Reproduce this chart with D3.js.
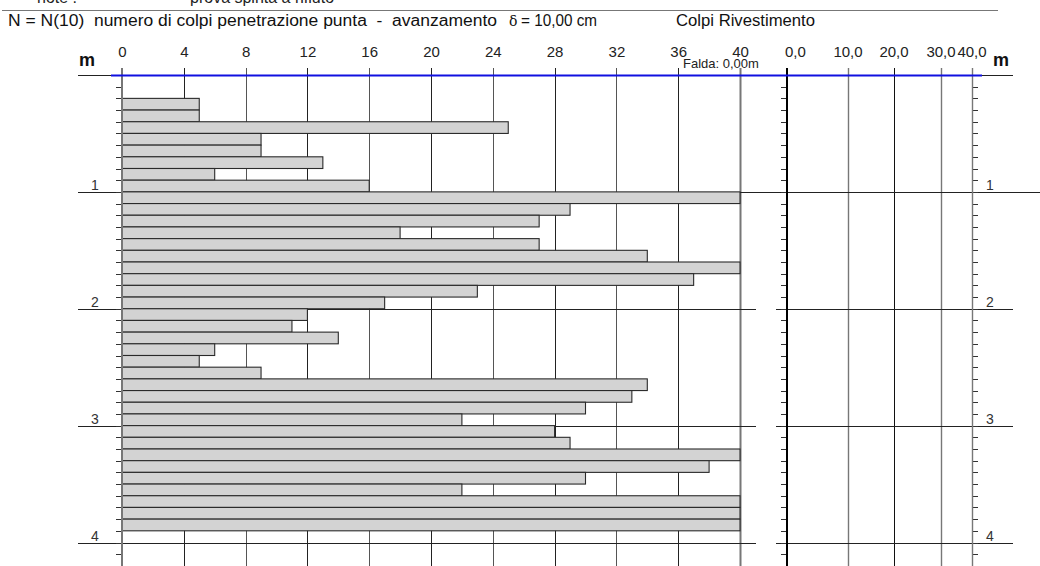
<!DOCTYPE html>
<html>
<head>
<meta charset="utf-8">
<script src="https://cdn.jsdelivr.net/npm/d3@7"></script>
<style>
  html, body { margin: 0; padding: 0; background: #fff; }
  svg { display: block; font-family: "Liberation Sans", Arial, sans-serif; }
</style>
</head>
<body>
<svg id="chart" width="1040" height="566"></svg>
<script>
// Penetrometric test: blow counts N(10) for each 10 cm of advance
const depthFrom = [0.2, 0.3, 0.4, 0.5, 0.6, 0.7, 0.8, 0.9,
                   1.0, 1.1, 1.2, 1.3, 1.4, 1.5, 1.6, 1.7, 1.8, 1.9,
                   2.0, 2.1, 2.2, 2.3, 2.4, 2.5, 2.6, 2.7, 2.8, 2.9,
                   3.0, 3.1, 3.2, 3.3, 3.4, 3.5, 3.6, 3.7, 3.8];
const blowCounts = [5, 5, 25, 9, 9, 13, 6, 16,
                    40, 29, 27, 18, 27, 34, 40, 37, 23, 17,
                    12, 11, 14, 6, 5, 9, 34, 33, 30, 22,
                    28, 29, 40, 38, 30, 22, 40, 40, 40];
const stepDepth = 0.1;

// Axis ticks
const blowTicks = [0, 4, 8, 12, 16, 20, 24, 28, 32, 36, 40];
const casingTicks = [0, 10, 20, 30, 40];
const casingLabels = ["0,0", "10,0", "20,0", "30,0", "40,0"];
const meterTicks = [1, 2, 3, 4];
const waterTable = 0.0;

const svg = d3.select("#chart");

// Scales
const y = d3.scaleLinear().domain([0, 4]).range([75, 542.5]);
const x = d3.scaleLinear().domain([0, 40]).range([122, 740]);
// casing column uses a stepped graduation
const xc = d3.scaleLinear().domain(casingTicks).range([787, 848, 894, 941, 972]);

const bottom = 566;
const minorDepths = d3.range(1, 42).map(d => d / 10);
const px = v => Math.round(v) + 0.5;

// ---- header ----
svg.append("text").attr("x", 37).attr("y", 3).attr("font-size", 16).attr("fill", "#222").text("note :");
svg.append("text").attr("x", 190).attr("y", 3).attr("font-size", 16).attr("fill", "#222").text("prova spinta a rifiuto");
svg.append("line").attr("x1", 2).attr("x2", 998).attr("y1", 10.5).attr("y2", 10.5)
  .attr("stroke", "#777").attr("stroke-width", 1.2);

const title = svg.append("g").attr("font-size", 16).attr("fill", "#111");
title.append("text").attr("x", 8).attr("y", 26)
  .attr("xml:space", "preserve")
  .attr("textLength", 489).attr("lengthAdjust", "spacingAndGlyphs")
  .text("N = N(10)  numero di colpi penetrazione punta  -  avanzamento");
title.append("text").attr("x", 509).attr("y", 26).attr("font-size", 14)
  .attr("font-family", "DejaVu Serif, serif").text("δ");
title.append("text").attr("x", 521).attr("y", 26)
  .attr("textLength", 76).attr("lengthAdjust", "spacingAndGlyphs").text("= 10,00 cm");
title.append("text").attr("x", 676).attr("y", 26)
  .attr("textLength", 139).attr("lengthAdjust", "spacingAndGlyphs").text("Colpi Rivestimento");

// ---- left column: blow counts ----
// vertical grid lines
svg.append("g").selectAll("line")
  .data(blowTicks.filter(d => d > 0))
  .join("line")
  .attr("x1", d => px(x(d))).attr("x2", d => px(x(d)))
  .attr("y1", 68).attr("y2", bottom)
  .attr("stroke", d => (d === 40 ? "#777" : (d % 8 === 4 ? "#222" : "#555")))
  .attr("stroke-width", d => (d === 40 ? 2 : 1));

// whole-metre lines
svg.append("g").selectAll("line")
  .data(meterTicks)
  .join("line")
  .attr("x1", 78).attr("x2", 756)
  .attr("y1", d => px(y(d))).attr("y2", d => px(y(d)))
  .attr("stroke", "#222").attr("stroke-width", 1);

// bars
svg.append("g").selectAll("rect")
  .data(blowCounts)
  .join("rect")
  .attr("x", x(0))
  .attr("y", (d, i) => y(depthFrom[i]))
  .attr("width", d => x(d) - x(0))
  .attr("height", (d, i) => y(depthFrom[i] + stepDepth) - y(depthFrom[i]))
  .attr("fill", "#d3d3d3")
  .attr("stroke", "#2a2a2a")
  .attr("stroke-width", 1.1);

// depth axis on the left (minor ticks every 10 cm)
svg.append("g").selectAll("line")
  .data(minorDepths)
  .join("line")
  .attr("x1", 116).attr("x2", 122)
  .attr("y1", d => px(y(d))).attr("y2", d => px(y(d)))
  .attr("stroke", "#333");
svg.append("line").attr("x1", 122).attr("x2", 122).attr("y1", 68).attr("y2", bottom)
  .attr("stroke", "#777").attr("stroke-width", 2);

// top tick labels
const xAxis = d3.axisTop(x).tickValues(blowTicks).tickSize(0).tickPadding(0);
const gx = svg.append("g").attr("transform", "translate(0,57)").call(xAxis);
gx.select(".domain").remove();
gx.selectAll("text").attr("font-size", 15).attr("fill", "#222")
  .attr("font-family", "Liberation Sans, Arial, sans-serif");

// depth labels on the left
svg.append("g").selectAll("text")
  .data(meterTicks)
  .join("text")
  .attr("x", 95).attr("y", d => y(d) - 2)
  .attr("text-anchor", "middle").attr("font-size", 14).attr("fill", "#333")
  .text(d => d);

svg.append("text").attr("x", 79).attr("y", 66).attr("font-size", 18)
  .attr("font-weight", "bold").attr("fill", "#111").text("m");

// ---- right column: casing blows ----
svg.append("g").selectAll("line")
  .data(casingTicks.slice(1, 4))
  .join("line")
  .attr("x1", d => px(xc(d))).attr("x2", d => px(xc(d)))
  .attr("y1", 68).attr("y2", bottom)
  .attr("stroke", (d, i) => (i === 1 ? "#111" : "#777"))
  .attr("stroke-width", (d, i) => (i === 1 ? 1 : 1.4));

svg.append("g").selectAll("line")
  .data(meterTicks)
  .join("line")
  .attr("x1", d => (d === 1 ? 755 : 776)).attr("x2", d => (d === 1 ? 1040 : 1013))
  .attr("y1", d => px(y(d))).attr("y2", d => px(y(d)))
  .attr("stroke", "#222");

// left edge ticks of the casing column
svg.append("g").selectAll("line")
  .data(minorDepths)
  .join("line")
  .attr("x1", 781).attr("x2", 787)
  .attr("y1", d => px(y(d))).attr("y2", d => px(y(d)))
  .attr("stroke", "#333");
// right edge ticks
svg.append("g").selectAll("line")
  .data(minorDepths)
  .join("line")
  .attr("x1", 972).attr("x2", 978)
  .attr("y1", d => px(y(d))).attr("y2", d => px(y(d)))
  .attr("stroke", "#333");

svg.append("line").attr("x1", xc(0)).attr("x2", xc(0)).attr("y1", 68).attr("y2", bottom)
  .attr("stroke", "#000").attr("stroke-width", 2);
svg.append("line").attr("x1", px(xc(40))).attr("x2", px(xc(40))).attr("y1", 68).attr("y2", bottom)
  .attr("stroke", "#777").attr("stroke-width", 1.4);

svg.append("g").selectAll("text")
  .data(casingTicks)
  .join("text")
  .attr("x", (d, i) => (i === 0 ? xc(d) - 2 : xc(d)))
  .attr("y", 57)
  .attr("text-anchor", (d, i) => (i === 0 ? "start" : "middle"))
  .attr("font-size", 15).attr("fill", "#222")
  .text((d, i) => casingLabels[i]);

svg.append("g").selectAll("text")
  .data(meterTicks)
  .join("text")
  .attr("x", 990).attr("y", d => y(d) - 2)
  .attr("text-anchor", "middle").attr("font-size", 14).attr("fill", "#333")
  .text(d => d);

svg.append("text").attr("x", 993).attr("y", 66).attr("font-size", 18)
  .attr("font-weight", "bold").attr("fill", "#111").text("m");

// ---- ground surface and water table ----
svg.append("line").attr("x1", 78).attr("x2", 111).attr("y1", px(y(0))).attr("y2", px(y(0)))
  .attr("stroke", "#222");
svg.append("line").attr("x1", 982).attr("x2", 1013).attr("y1", px(y(0))).attr("y2", px(y(0)))
  .attr("stroke", "#222");
svg.append("line").attr("x1", 111).attr("x2", 982)
  .attr("y1", y(waterTable) + 0.5).attr("y2", y(waterTable) + 0.5)
  .attr("stroke", "#1010e0").attr("stroke-width", 2);
svg.append("text").attr("x", 683).attr("y", 68).attr("font-size", 13).attr("fill", "#222")
  .text("Falda: " + waterTable.toFixed(2).replace(".", ",") + "m");
</script>
</body>
</html>
